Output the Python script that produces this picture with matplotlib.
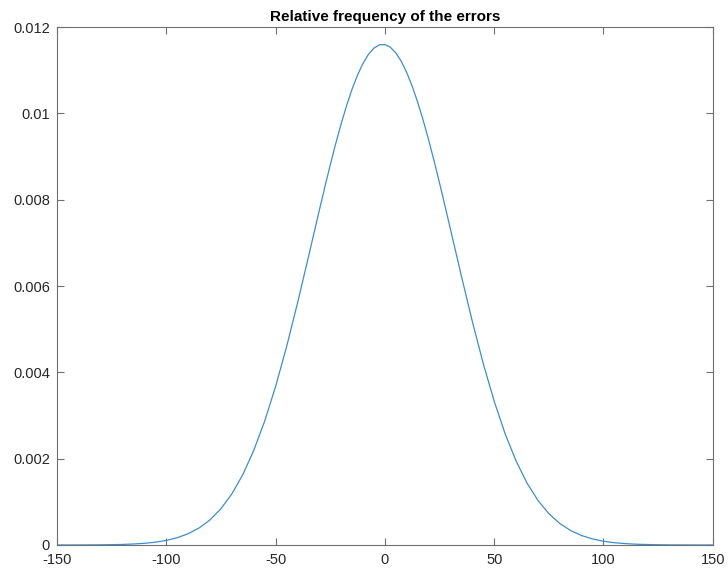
import matplotlib
matplotlib.use('Agg')
import matplotlib.pyplot as plt

# error values and their relative frequency
errors = [-150, -145, -140, -135, -130, -125, -120, -115, -110, -105,
          -100, -95, -90, -85, -80, -75, -70, -65, -60, -55,
          -50, -45, -40, -35, -30, -27.5, -25, -22.5, -20, -17.5,
          -15, -12.5, -10, -7.5, -5, -2.5, 0, 2.5, 5, 7.5,
          10, 12.5, 15, 17.5, 20, 22.5, 25, 27.5, 30, 35,
          40, 45, 50, 55, 60, 65, 70, 75, 80, 85,
          90, 95, 100, 105, 110, 115, 120, 125, 130, 135,
          140, 145, 150]
freq_e3 = [0.0003, 0.0006, 0.0011, 0.0021, 0.0040, 0.0073, 0.013, 0.023, 0.039, 0.065,
           0.106, 0.168, 0.261, 0.394, 0.582, 0.841, 1.184, 1.629, 2.188, 2.868,
           3.670, 4.587, 5.596, 6.667, 7.752, 8.285, 8.802, 9.295, 9.757, 10.181,
           10.561, 10.888, 11.158, 11.367, 11.511, 11.587, 11.594, 11.532, 11.402, 11.206,
           10.947, 10.630, 10.260, 9.845, 9.390, 8.903, 8.390, 7.860, 7.318, 6.234,
           5.183, 4.207, 3.335, 2.581, 1.950, 1.438, 1.036, 0.728, 0.500, 0.335,
           0.219, 0.140, 0.087, 0.053, 0.032, 0.018, 0.0104, 0.0058, 0.0031, 0.0016,
           0.0008, 0.0004, 0.0002]
freq = [v / 1000 for v in freq_e3]

xticks = [-150, -100, -50, 0, 50, 100, 150]
yticks = [0, 0.002, 0.004, 0.006, 0.008, 0.01, 0.012]
ylabels = ['0', '0.002', '0.004', '0.006', '0.008', '0.01', '0.012']

plt.rcParams['font.family'] = ['Liberation Sans', 'DejaVu Sans']

fig = plt.figure(figsize=(7.28, 5.69), dpi=100)
ax = fig.add_axes([0.0783, 0.0422, 0.9007, 0.9103])

ax.plot(errors, freq, color='#3a8ed0', linewidth=0.9)

ax.set_xlim(-150, 150)
ax.set_ylim(0, 0.012)
ax.set_xticks(xticks)
ax.set_xticklabels([str(t) for t in xticks])
ax.set_yticks(yticks)
ax.set_yticklabels(ylabels)

for s in ax.spines.values():
    s.set_color('#707070')
    s.set_linewidth(0.8)
ax.tick_params(direction='in', length=5, width=0.8, color='#707070',
               labelsize=10.5, labelcolor='#262626', top=True, right=True)
ax.tick_params(axis='x', pad=6)
ax.tick_params(axis='y', pad=5)

ax.set_title('Relative frequency of the errors', fontsize=11, fontweight='bold', pad=4)

fig.savefig('out.png', dpi=100)
